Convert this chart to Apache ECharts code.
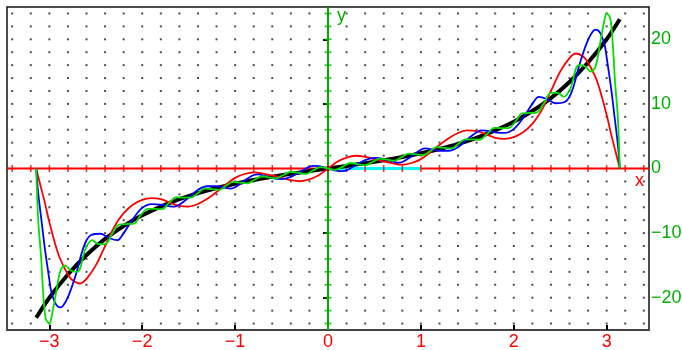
<!DOCTYPE html>
<html><head><meta charset="utf-8">
<script src="https://cdn.jsdelivr.net/npm/echarts@6/dist/echarts.min.js"></script>
<style>html,body{margin:0;padding:0;background:#fff}#c{width:682px;height:350px}</style>
</head><body><div id="c"></div>
<script>
// ---- axis / tick values ----
const xTickLabels = [-3, -2, -1, 0, 1, 2, 3];
const yTickLabels = [-20, -10, 0, 10, 20];
const xRange = [-3.456, 3.456];
const yRange = [-25, 25];
const xDotStep = 0.2;
const yDotStep = 2;

// ---- black curve ----
const blackX = [-3.1416,-3.0,-2.8,-2.6,-2.4,-2.2,-2.0,-1.8,-1.6,-1.4,-1.2,-1.0,-0.8,-0.6,-0.4,-0.2,0,0.2,0.4,0.6,0.8,1.0,1.2,1.4,1.6,1.8,2.0,2.2,2.4,2.6,2.8,3.0,3.1416];
const blackY = [-23.1,-20.0,-16.4,-13.4,-10.9,-8.9,-7.25,-5.9,-4.75,-3.8,-3.02,-2.35,-1.78,-1.27,-0.82,-0.4,0,0.4,0.82,1.27,1.78,2.35,3.02,3.8,4.75,5.9,7.25,8.9,10.9,13.4,16.4,20.0,23.1];

// ---- red curve ----
const redX = [-3.1416,-3.1,-3.05,-3.0,-2.9,-2.8,-2.75,-2.67,-2.6,-2.5,-2.4,-2.3,-2.2,-2.1,-2.0,-1.9,-1.8,-1.7,-1.6,-1.5,-1.4,-1.3,-1.2,-1.1,-1.0,-0.9,-0.8,-0.7,-0.6,-0.5,-0.4,-0.3,-0.2,-0.1,0,0.1,0.2,0.3,0.4,0.5,0.6,0.7,0.8,0.9,1.0,1.1,1.2,1.3,1.4,1.5,1.6,1.7,1.8,1.9,2.0,2.1,2.2,2.3,2.4,2.5,2.6,2.67,2.75,2.8,2.9,3.0,3.05,3.1,3.1416];
const redY = [0,-2.4,-5.2,-8.3,-13.4,-16.4,-17.3,-17.8,-17.1,-15.0,-12.0,-9.0,-6.9,-5.6,-4.85,-4.6,-4.75,-5.3,-5.8,-5.9,-5.5,-4.7,-3.65,-2.5,-1.45,-0.85,-0.6,-0.8,-1.1,-1.45,-1.8,-1.97,-1.7,-1.05,0,1.05,1.7,1.97,1.8,1.45,1.1,0.8,0.6,0.85,1.45,2.5,3.65,4.7,5.5,5.9,5.8,5.3,4.75,4.6,4.85,5.6,6.9,9.0,12.0,15.0,17.1,17.8,17.3,16.4,13.4,8.3,5.2,2.4,0];

// ---- blue curve ----
const blueX = [-3.1416,-3.12,-3.09,-3.05,-3.0,-2.98,-2.93,-2.88,-2.85,-2.8,-2.75,-2.7,-2.65,-2.6,-2.55,-2.45,-2.35,-2.27,-2.2,-2.1,-2.0,-1.9,-1.8,-1.7,-1.65,-1.6,-1.5,-1.4,-1.3,-1.2,-1.1,-1.05,-1.0,-0.9,-0.8,-0.75,-0.7,-0.6,-0.5,-0.4,-0.3,-0.2,-0.15,-0.1,0,0.1,0.15,0.2,0.3,0.4,0.5,0.6,0.7,0.75,0.8,0.9,1.0,1.05,1.1,1.2,1.3,1.4,1.5,1.6,1.65,1.7,1.8,1.9,2.0,2.1,2.2,2.27,2.35,2.45,2.55,2.6,2.65,2.7,2.75,2.8,2.85,2.88,2.93,2.98,3.0,3.05,3.09,3.12,3.1416];
const blueY = [0,-3.8,-7.4,-12.2,-17.2,-19.0,-21.0,-21.5,-21.2,-19.9,-18.0,-15.7,-13.0,-11.1,-10.3,-10.1,-10.8,-11.1,-10.0,-7.8,-6.1,-5.5,-5.6,-5.85,-5.9,-5.6,-4.5,-3.3,-2.75,-2.75,-3.0,-3.1,-2.9,-1.9,-1.0,-0.9,-1.05,-1.5,-1.65,-1.3,-0.55,0.3,0.4,0.35,0,-0.35,-0.4,-0.3,0.55,1.3,1.65,1.5,1.05,0.9,1.0,1.9,2.9,3.1,3.0,2.75,2.75,3.3,4.5,5.6,5.9,5.85,5.6,5.5,6.1,7.8,10.0,11.1,10.8,10.1,10.3,11.1,13.0,15.7,18.0,19.9,21.2,21.5,21.0,19.0,17.2,12.2,7.4,3.8,0];

// ---- green curve ----
const greenX = [-3.1416,-3.12,-3.09,-3.07,-3.04,-3.0,-2.97,-2.93,-2.88,-2.83,-2.77,-2.7,-2.61,-2.54,-2.47,-2.4,-2.32,-2.25,-2.17,-2.09,-2.02,-1.94,-1.86,-1.79,-1.71,-1.63,-1.56,-1.48,-1.4,-1.33,-1.25,-1.17,-1.1,-1.02,-0.95,-0.87,-0.79,-0.71,-0.64,-0.56,-0.48,-0.40,-0.32,-0.24,-0.16,-0.08,0,0.08,0.16,0.24,0.32,0.40,0.48,0.56,0.64,0.71,0.79,0.87,0.95,1.02,1.1,1.17,1.25,1.33,1.4,1.48,1.56,1.63,1.71,1.79,1.86,1.94,2.02,2.09,2.17,2.25,2.32,2.4,2.47,2.54,2.61,2.7,2.77,2.83,2.88,2.93,2.97,3.0,3.04,3.07,3.09,3.12,3.1416];
const greenY = [0,-8.0,-13.5,-18.4,-23.2,-24.0,-22.5,-19.4,-15.8,-15.0,-15.8,-16.0,-12.4,-11.1,-11.7,-11.7,-10.0,-8.7,-8.6,-8.55,-7.3,-6.25,-6.25,-6.3,-5.3,-4.45,-4.5,-4.5,-3.8,-3.1,-3.2,-3.3,-2.7,-2.08,-2.2,-2.3,-1.75,-1.2,-1.37,-1.52,-1.0,-0.5,-0.65,-0.85,-0.3,0.2,0,-0.2,0.3,0.85,0.65,0.5,1.0,1.52,1.37,1.2,1.75,2.3,2.2,2.08,2.7,3.3,3.2,3.1,3.8,4.5,4.5,4.45,5.3,6.3,6.25,6.25,7.3,8.55,8.6,8.7,10.0,11.7,11.7,11.1,12.4,16.0,15.8,15.0,15.8,19.4,22.5,24.0,23.2,18.4,13.5,8.0,0];

// ---- cyan segment on the x axis ----
const cyanX = [0, 1];
const cyanY = [0, 0];

const zip = (xs, ys) => xs.map((x, i) => [x, ys[i]]);
const fmt = v => String(v).replace('-', '\u2212');

// decorative dot grid & axis ticks (from the dot steps)
const xDots = [], yDots = [];
for (let i = Math.ceil(xRange[0] / xDotStep); i <= Math.floor(xRange[1] / xDotStep); i++) xDots.push(+(i * xDotStep).toFixed(2));
for (let j = Math.ceil(yRange[0] / yDotStep + 1e-9); j <= Math.floor(yRange[1] / yDotStep); j++) yDots.push(j * yDotStep);
const dots = [];
xDots.forEach(x => yDots.forEach(y => { if (y !== 0 && Math.abs(x) > 1e-9) dots.push([x, y]); }));
const redTicks = xDots.map(x => [x, 0]);
const greenTicks = yDots.map(y => [0, y]);

const FONT = 'Liberation Sans, Arial, sans-serif';
const chart = echarts.init(document.getElementById('c'), null, {renderer: 'canvas'});
chart.setOption({
  animation: false,
  backgroundColor: '#fff',
  grid: {left: 7, right: 33, top: 7, bottom: 20, containLabel: false, outerBoundsMode: 'none',
         show: true, borderColor: '#111', borderWidth: 1.5, backgroundColor: 'transparent'},
  xAxis: {
    type: 'value', min: xRange[0], max: xRange[1], position: 'bottom',
    axisLine: {onZero: false, lineStyle: {color: '#444', width: 2}},
    axisTick: {show: true, inside: true, length: 5, customValues: xTickLabels, lineStyle: {color: '#000', width: 2}},
    axisLabel: {customValues: xTickLabels, color: '#ff0000', fontSize: 18, fontFamily: FONT, margin: 3, formatter: fmt},
    splitLine: {show: false}
  },
  yAxis: {
    type: 'value', min: yRange[0], max: yRange[1], position: 'right',
    axisLine: {show: true, lineStyle: {color: '#111', width: 1.5}},
    axisTick: {show: true, inside: true, length: 5, customValues: [-20, -10, 10, 20], lineStyle: {color: '#000', width: 2}},
    axisLabel: {customValues: yTickLabels, color: '#00b000', fontSize: 18, fontFamily: FONT, margin: 2, formatter: fmt},
    splitLine: {show: false}
  },
  series: [
    {type: 'scatter', data: dots, symbol: 'rect', symbolSize: 2, itemStyle: {color: '#222'}, silent: true, z: 1},
    {type: 'line', data: [[xRange[0], 0], [xRange[1], 0]], symbol: 'none', lineStyle: {color: '#ff0000', width: 2}, silent: true, z: 2},
    {type: 'line', data: [[0, yRange[0]], [0, yRange[1]]], symbol: 'none', lineStyle: {color: '#00b000', width: 2}, silent: true, z: 2},
    {type: 'line', data: zip(cyanX, cyanY), symbol: 'none', lineStyle: {color: '#00ffff', width: 3}, silent: true, z: 3},
    {type: 'scatter', data: redTicks, symbol: 'rect', symbolSize: [1.6, 7], itemStyle: {color: '#ff0000'}, silent: true, z: 4},
    {type: 'scatter', data: greenTicks, symbol: 'rect', symbolSize: [7, 1.6], itemStyle: {color: '#00b000'}, silent: true, z: 4},
    {type: 'line', data: zip(blackX, blackY), symbol: 'none', smooth: 0.3, lineStyle: {color: '#000', width: 4}, silent: true, z: 5},
    {type: 'line', data: zip(redX, redY), symbol: 'none', smooth: 0.35, lineStyle: {color: '#ff0000', width: 1.8}, silent: true, z: 6},
    {type: 'line', data: zip(blueX, blueY), symbol: 'none', smooth: 0.35, lineStyle: {color: '#0000ff', width: 1.8}, silent: true, z: 7},
    {type: 'line', data: zip(greenX, greenY), symbol: 'none', smooth: 0.35, lineStyle: {color: '#00e000', width: 1.8}, silent: true, z: 8}
  ],
  graphic: [
    {type: 'text', left: 337, top: 7, style: {text: 'y', fill: '#00b000', font: '18px ' + FONT}},
    {type: 'text', left: 635, top: 172, style: {text: 'x', fill: '#ff0000', font: '18px ' + FONT}}
  ]
});
</script></body></html>
